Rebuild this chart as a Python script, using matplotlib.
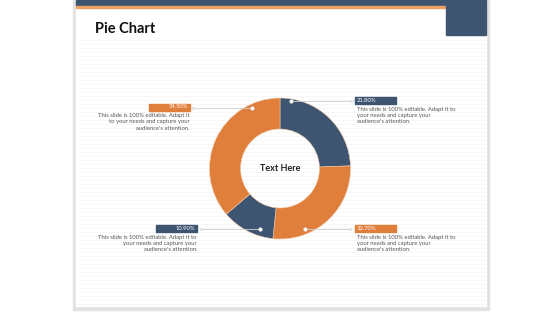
import numpy as np
import matplotlib.pyplot as plt
from matplotlib.patches import Rectangle, FancyBboxPatch

plt.rcParams['font.family'] = ['Lato', 'DejaVu Sans']

# wedge shares (clockwise from 12 o'clock)
shares = [24.4, 27.2, 12.2, 36.2]
labels = ['21.80%', '32.70%', '10.90%', '34.50%']
blue = '#3e5572'
orange = '#e07e3c'
colors = [blue, orange, blue, orange]
body = "This slide is 100% editable. Adapt it to\nyour needs and capture your\naudience's attention."
body_tl = "This slide is 100% editable. Adapt it\nto your needs and capture your\naudience's attention."

W, H = 560, 315
fig = plt.figure(figsize=(W / 100, H / 100), dpi=100)

# background / slide frame
bg = fig.add_axes([0, 0, 1, 1], zorder=0)
bg.set_xlim(0, W)
bg.set_ylim(H, 0)
bg.axis('off')
bg.add_patch(Rectangle((73, -2), 416, 312, color='#e2e2e2'))
bg.add_patch(Rectangle((76, -2), 410, 308, color='white'))
for yy in np.arange(40, 305, 4):
    bg.plot([78, 484], [yy, yy], color='#f6f6f6', lw=0.6)
bg.add_patch(Rectangle((76, 0), 370, 6, color=blue))
bg.add_patch(Rectangle((76, 6), 370, 2, color='#f0a060'))
bg.add_patch(Rectangle((446, 0), 40, 35, color=blue))
bg.text(95, 29, 'Pie Chart', fontsize=10.5, fontweight='bold', color='#111111', va='center')

# donut
cx, cy, r = 280, 168.5, 70.5
pie_ax = fig.add_axes([(cx - r) / W, (H - cy - r) / H, 2 * r / W, 2 * r / H], zorder=1)
pie_ax.pie(shares, colors=colors, startangle=90, counterclock=False, radius=1,
           wedgeprops=dict(width=0.44, edgecolor='#f2c9a8', linewidth=0.4))
pie_ax.set_xlim(-1, 1)
pie_ax.set_ylim(-1, 1)
pie_ax.text(0, 0, 'Text Here', ha='center', va='center', fontsize=6.5,
            fontweight='bold', color='#222222')

# labels with leader lines
top = fig.add_axes([0, 0, 1, 1], zorder=2)
top.set_xlim(0, W)
top.set_ylim(H, 0)
top.axis('off')
top.patch.set_alpha(0)

# (dot on ring, line end, box x, box y, side)
layout = [
    ((291, 101), 352, 355, 100.5, 'left', body),
    ((305, 229), 350, 355, 228.5, 'left', body),
    ((260, 229), 201, 197, 228.5, 'right', body),
    ((252, 107.5), 193, 190, 107, 'right', body_tl),
]
for (dot, lend, bx, by, side, txt), lab, col in zip(layout, labels, colors):
    top.plot([dot[0], lend], [dot[1], dot[1]], color='#cfcfcf', lw=0.6)
    top.plot(dot[0], dot[1], 'o', ms=2.6, mfc='white', mec='#dddddd', mew=0.4)
    top.plot(lend, dot[1], 'o', ms=1.8, mfc='white', mec='#cccccc', mew=0.4)
    bw, bh = 41, 7
    x0 = bx if side == 'left' else bx - bw
    top.add_patch(Rectangle((x0, by - bh / 2), bw, bh, color=col))
    top.text(x0 + (2 if side == 'left' else bw - 2), by, lab, fontsize=4.2,
             color='white', ha=side, va='center')
    tx = x0 + 2 if side == 'left' else bx
    top.text(tx, by + 6, txt, fontsize=4.2, color='#555555', ha=side, va='top',
             linespacing=1.35, multialignment=side)

fig.savefig('out.png', dpi=100)
